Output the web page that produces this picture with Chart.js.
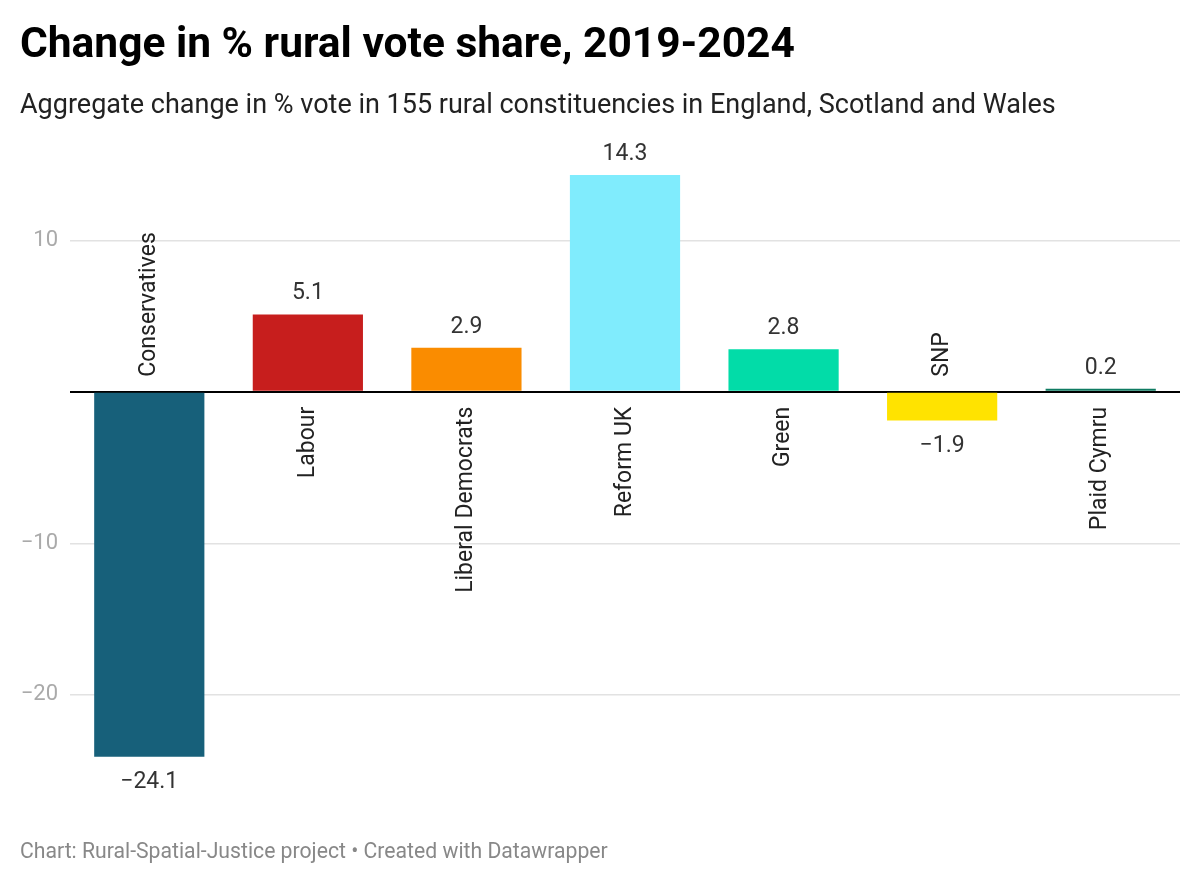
<!DOCTYPE html>
<html>
<head>
<meta charset="utf-8">
<script src="https://cdn.jsdelivr.net/npm/chart.js@4.4.1/dist/chart.umd.min.js"></script>
<style>
  html, body { margin: 0; padding: 0; background: #fff; }
  body { width: 1200px; height: 883px; position: relative; overflow: hidden; font-family: Roboto, sans-serif; }
  #title { position: absolute; left: 20px; top: 22px; font-size: 42.5px; line-height: 42px; font-weight: 700; color: #000; white-space: nowrap; }
  #subtitle { position: absolute; left: 20px; top: 89px; font-size: 27px; line-height: 30px; color: #222; white-space: nowrap; }
  #footer { position: absolute; left: 20px; top: 839px; font-size: 21.2px; line-height: 24px; color: #888; white-space: nowrap; }
  #wrap { position: absolute; left: 0; top: 0; width: 1200px; height: 883px; }
</style>
</head>
<body>
<div id="wrap"><canvas id="voteChart" width="1200" height="883"></canvas></div>
<div id="title">Change in % rural vote share, 2019-2024</div>
<div id="subtitle">Aggregate change in % vote in 155 rural constituencies in England, Scotland and Wales</div>
<div id="footer">Chart: Rural-Spatial-Justice project • Created with Datawrapper</div>
<script>
// Data
const parties = ['Conservatives', 'Labour', 'Liberal Democrats', 'Reform UK', 'Green', 'SNP', 'Plaid Cymru'];
const changes = [-24.1, 5.1, 2.9, 14.3, 2.8, -1.9, 0.2];
const partyColors = ['#17607a', '#c71e1d', '#fa8c00', '#80ecfd', '#02dca8', '#ffe300', '#0f7b62'];
const yTicks = [-20, -10, 0, 10];

const fmt = v => (v < 0 ? '\u2212' + Math.abs(v) : String(v));

// Value labels + rotated category labels next to the zero line
const barLabels = {
    id: 'barLabels',
    afterDatasetsDraw(chart) {
        const ctx = chart.ctx;
        const zeroY = chart.scales.y.getPixelForValue(0);
        const meta = chart.getDatasetMeta(0);
        ctx.save();
        meta.data.forEach((bar, i) => {
            const v = changes[i];
            ctx.font = '23px Roboto';
            ctx.fillStyle = '#333';
            ctx.textAlign = 'center';
            ctx.textBaseline = 'alphabetic';
            if (v >= 0) {
                ctx.fillText(v.toFixed(1), bar.x, bar.y - 15);
            } else {
                ctx.fillText('\u2212' + Math.abs(v).toFixed(1), bar.x, bar.y + 31);
            }
            // category label
            ctx.save();
            ctx.translate(bar.x, zeroY);
            ctx.rotate(-Math.PI / 2);
            ctx.fillStyle = '#222';
            ctx.textBaseline = 'middle';
            if (v >= 0) {
                ctx.textAlign = 'right';
                ctx.fillText(parties[i], -15, 0);
            } else {
                ctx.textAlign = 'left';
                ctx.fillText(parties[i], 15, 0);
            }
            ctx.restore();
        });
        ctx.restore();
    }
};

const voteCtx = document.getElementById('voteChart').getContext('2d');
const voteChart = new Chart(voteCtx, {
    type: 'bar',
    data: {
        labels: parties,
        datasets: [{
            data: changes,
            backgroundColor: partyColors,
            borderWidth: 0,
            barPercentage: 0.695,
            categoryPercentage: 1
        }]
    },
    options: {
        responsive: false,
        animation: false,
        devicePixelRatio: 1,
        layout: { padding: { top: 164.5, bottom: 112.5, right: 20, left: 0 } },
        plugins: {
            legend: { display: false },
            tooltip: { enabled: false }
        },
        scales: {
            x: { display: false },
            y: {
                min: -25,
                max: 15,
                afterBuildTicks: scale => { scale.ticks = yTicks.map(v => ({ value: v })); },
                afterFit: scale => { scale.width = 70; },
                border: { display: false },
                grid: {
                    drawTicks: false,
                    color: ctx => (ctx.tick && ctx.tick.value === 0 ? '#000' : '#e2e2e2'),
                    lineWidth: ctx => (ctx.tick && ctx.tick.value === 0 ? 2 : 1.5)
                },
                ticks: {
                    padding: 12,
                    color: '#aaa',
                    font: { family: 'Roboto', size: 22 },
                    callback: v => (v === 0 ? '' : fmt(v))
                }
            }
        }
    },
    plugins: [barLabels]
});
</script>
</body>
</html>
